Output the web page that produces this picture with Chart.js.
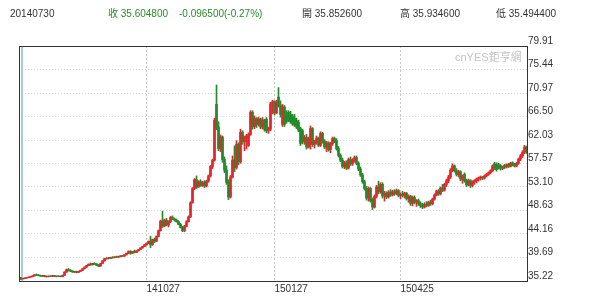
<!DOCTYPE html>
<html>
<head>
<meta charset="utf-8">
<script src="https://cdn.jsdelivr.net/npm/chart.js@4.4.1/dist/chart.umd.min.js"></script>
<style>
body { margin: 0; background: #fff; }
#wrap { position: relative; width: 600px; height: 304px; }
.hd { position: absolute; top: 8px; font: 10px "Liberation Sans", "Noto Sans CJK TC", sans-serif; color: #333; white-space: nowrap; line-height: 12px; }
.dn { color: #2a8a2a; }
#wm { position: absolute; left: 455px; top: 48px; font: 11px "Liberation Sans", "Noto Sans CJK TC", sans-serif; color: #c4c4c4; white-space: nowrap; }
</style>
</head>
<body>
<div id="wrap">
  <canvas id="kChart" width="600" height="304"></canvas>
  <span class="hd" style="left:10px">20140730</span>
  <span class="hd dn" style="left:108px">收 35.604800</span>
  <span class="hd dn" style="left:179px">-0.096500(-0.27%)</span>
  <span class="hd" style="left:302px">開 35.852600</span>
  <span class="hd" style="left:400px">高 35.934600</span>
  <span class="hd" style="left:496px">低 35.494400</span>
  <span id="wm">cnYES鉅亨網</span>
</div>
<script>
// daily candles, 20140730 onwards
var opens = [
  35.85,35.60,35.70,35.78,35.85,35.95,36.05,36.20,36.40,36.35,
  36.25,36.15,36.25,36.05,36.10,36.15,36.10,36.25,36.10,36.15,
  36.10,36.05,36.30,36.90,37.35,37.25,37.10,36.95,37.05,36.85,
  37.05,37.25,37.55,37.85,38.15,38.40,38.30,38.55,38.45,38.25,
  38.05,38.55,39.05,39.45,39.55,39.50,39.70,39.65,39.80,39.75,
  39.90,40.00,39.95,40.20,40.50,40.85,40.50,40.80,40.65,40.95,
  41.20,41.50,41.80,42.10,42.40,42.75,42.10,43.10,42.80,43.70,
  44.80,46.60,45.70,46.80,45.90,46.50,47.30,47.00,46.80,46.50,
  46.00,45.40,44.80,45.60,46.50,47.40,50.10,52.80,54.50,53.10,
  54.10,53.40,54.00,53.30,54.20,55.20,57.00,58.20,68.80,64.50,
  60.40,62.60,58.30,56.30,54.00,51.20,55.00,58.20,56.80,61.20,
  57.90,63.50,61.70,62.50,61.00,63.10,67.30,64.60,66.10,65.00,
  66.00,64.50,65.80,66.00,63.80,64.10,68.90,69.30,67.20,70.20,
  68.60,65.00,68.30,66.60,67.30,66.90,66.50,66.20,65.70,65.40,
  64.20,63.80,61.70,62.50,60.70,61.20,64.20,61.20,61.60,62.40,
  61.00,63.30,61.80,60.70,61.50,60.20,61.30,62.30,61.90,60.40,
  59.10,58.20,57.00,57.70,56.70,58.30,57.50,58.20,58.70,57.60,
  56.50,55.40,54.10,52.80,51.00,52.80,50.50,49.30,51.30,53.10,
  52.20,53.60,51.40,51.90,51.20,52.10,51.60,52.20,51.90,52.40,
  51.50,51.70,51.50,51.90,50.90,51.30,50.00,51.10,50.20,50.50,
  49.90,49.50,49.30,49.80,49.60,50.20,49.90,50.80,51.60,52.30,
  51.80,52.90,52.50,53.60,54.30,55.00,56.30,57.10,56.20,55.50,
  56.00,54.60,55.50,54.30,53.50,54.30,53.40,54.10,54.30,54.60,
  54.80,55.00,54.80,55.20,55.50,55.80,56.20,57.50,57.40,57.30,
  57.20,56.60,57.20,56.90,57.40,57.00,57.70,57.30,57.10,57.60,
  58.40,59.00,59.70,60.70
];
var highs = [
  35.93,35.75,35.85,35.92,36.00,36.10,36.25,36.45,36.55,36.45,
  36.35,36.30,36.30,36.20,36.20,36.25,36.30,36.30,36.20,36.25,
  36.20,36.35,37.00,37.50,37.60,37.40,37.20,37.10,37.10,37.10,
  37.30,37.60,37.90,38.20,38.50,38.65,38.60,38.70,38.55,38.40,
  38.60,39.10,39.55,39.65,39.70,39.75,39.85,39.85,39.95,39.95,
  40.05,40.10,40.25,40.55,40.95,41.00,40.85,41.10,41.00,41.25,
  41.55,41.85,42.15,42.45,42.85,43.75,43.20,43.40,43.80,44.90,
  46.80,48.50,47.00,47.10,46.70,47.50,47.60,47.20,47.00,46.70,
  46.20,45.60,45.80,46.70,47.60,50.30,53.00,54.70,55.20,54.30,
  54.50,54.20,54.30,54.40,55.40,57.20,58.40,66.20,72.50,65.50,
  63.00,62.80,58.80,57.10,54.50,55.30,59.00,60.90,61.90,61.50,
  64.10,63.80,62.80,63.10,63.40,67.60,67.60,66.60,66.30,66.40,
  66.20,66.30,66.00,66.30,64.50,69.20,69.60,69.50,69.60,72.00,
  69.50,68.80,68.60,67.60,67.60,67.50,66.90,66.90,66.20,65.80,
  64.50,64.10,62.90,63.10,62.60,64.70,64.40,62.00,62.80,62.60,
  63.60,63.50,62.10,61.80,61.70,61.60,62.60,62.60,62.30,60.80,
  59.40,58.60,58.00,58.10,58.60,58.80,58.50,59.00,59.00,57.90,
  56.90,55.70,54.40,53.20,53.10,53.00,51.00,51.60,53.40,54.20,
  53.90,53.90,52.30,52.20,52.40,52.60,52.50,52.60,52.70,52.60,
  52.00,52.30,52.10,52.10,51.60,51.50,51.40,51.40,50.70,50.80,
  50.30,50.00,50.10,50.30,50.40,50.60,51.00,51.80,52.50,52.60,
  53.10,53.60,53.80,54.60,55.30,56.60,57.50,57.30,56.60,56.30,
  56.20,55.40,55.80,54.60,54.60,54.50,54.30,54.50,54.80,55.00,
  55.20,55.10,55.40,55.70,56.00,56.40,57.30,57.80,57.70,57.60,
  57.40,57.10,57.40,57.50,57.60,57.80,57.90,57.60,57.80,58.60,
  59.30,60.00,61.00,60.90
];
var lows = [
  35.49,35.55,35.65,35.72,35.80,35.90,36.00,36.15,36.25,36.20,
  36.10,36.05,36.00,35.95,36.00,36.05,36.05,36.05,36.00,36.05,
  36.00,36.00,36.25,36.85,37.10,37.00,36.85,36.80,36.75,36.80,
  37.00,37.20,37.50,37.80,38.10,38.20,38.25,38.35,38.15,37.95,
  38.00,38.50,39.00,39.35,39.40,39.45,39.55,39.60,39.70,39.70,
  39.80,39.85,39.90,40.15,40.45,40.30,40.45,40.55,40.60,40.90,
  41.15,41.45,41.75,42.00,42.30,41.55,42.00,42.50,42.70,43.60,
  44.70,45.40,45.50,45.70,45.50,46.30,46.90,46.60,46.40,45.90,
  45.30,44.60,44.60,45.50,46.40,47.30,50.00,52.60,52.80,53.00,
  53.20,53.20,53.00,53.10,54.00,55.00,56.60,58.00,64.00,60.00,
  59.80,57.80,55.80,53.60,50.70,51.00,54.80,56.00,56.50,57.30,
  57.60,61.20,60.00,60.30,60.80,62.90,64.10,64.20,64.40,64.70,
  64.20,64.10,63.70,63.40,63.30,63.80,67.00,66.80,67.00,68.30,
  66.40,64.60,64.60,65.20,65.50,65.20,64.80,64.60,64.20,63.60,
  61.00,61.30,61.20,60.30,60.50,60.30,60.80,60.50,61.20,60.80,
  60.80,61.40,60.40,59.80,59.90,59.60,61.00,61.50,60.10,58.80,
  57.90,56.70,56.60,56.40,56.50,57.20,57.20,57.80,57.30,56.20,
  55.10,53.80,52.50,50.60,50.40,50.20,48.80,49.10,51.00,51.80,
  51.90,51.00,50.40,50.90,51.00,51.30,51.40,51.50,51.60,51.20,
  50.90,51.20,51.00,50.60,50.20,49.60,49.50,49.90,49.40,49.60,
  49.20,49.00,49.10,49.30,49.40,49.60,49.70,50.60,51.40,51.50,
  51.60,52.20,52.30,53.20,53.90,54.70,56.00,55.90,55.20,55.00,
  54.30,53.80,54.00,53.20,53.30,53.00,53.10,53.60,53.90,54.20,
  54.40,54.50,54.60,55.00,55.30,55.60,56.00,56.40,56.10,56.50,
  56.30,56.40,56.60,56.70,56.80,56.90,57.10,56.90,56.90,57.40,
  58.10,58.70,59.40,59.50
];
var closes = [
  35.60,35.70,35.78,35.85,35.95,36.05,36.20,36.40,36.35,36.25,
  36.15,36.25,36.05,36.10,36.15,36.10,36.25,36.10,36.15,36.10,
  36.05,36.30,36.90,37.35,37.25,37.10,36.95,37.05,36.85,37.05,
  37.25,37.55,37.85,38.15,38.40,38.30,38.55,38.45,38.25,38.05,
  38.55,39.05,39.45,39.55,39.50,39.70,39.65,39.80,39.75,39.90,
  40.00,39.95,40.20,40.50,40.85,40.50,40.80,40.65,40.95,41.20,
  41.50,41.80,42.10,42.40,42.75,42.10,43.10,42.80,43.70,44.80,
  46.60,45.70,46.80,45.90,46.50,47.30,47.00,46.80,46.50,46.00,
  45.40,44.80,45.60,46.50,47.40,50.10,52.80,54.50,53.10,54.10,
  53.40,54.00,53.30,54.20,55.20,57.00,58.20,65.80,64.50,60.40,
  62.60,58.30,56.30,54.00,51.20,55.00,58.20,56.80,61.20,57.90,
  63.50,61.70,62.50,62.80,63.10,67.30,64.60,66.10,65.00,66.00,
  64.50,65.80,64.10,63.80,64.10,68.90,69.30,67.20,69.30,68.60,
  66.90,68.30,65.00,65.60,65.80,65.50,65.10,64.90,64.50,63.90,
  61.40,61.70,62.50,60.70,62.30,64.20,61.20,61.60,62.40,61.00,
  63.30,61.80,60.70,61.50,60.20,61.30,62.30,61.80,60.40,59.10,
  58.20,57.00,57.70,56.70,58.30,57.50,58.20,58.70,57.60,56.50,
  55.40,54.10,52.80,51.00,52.80,50.50,49.30,51.30,53.10,52.20,
  53.60,51.40,51.90,51.20,52.10,51.60,52.20,51.90,52.40,51.50,
  51.70,51.50,51.90,50.90,51.30,50.00,51.10,50.20,50.50,49.90,
  49.50,49.30,49.80,49.60,50.20,49.90,50.80,51.60,52.30,51.80,
  52.90,52.50,53.60,54.30,55.00,56.30,57.10,56.20,55.50,56.00,
  54.60,55.10,54.30,53.50,54.30,53.40,54.10,54.30,54.60,54.80,
  55.00,54.80,55.20,55.50,55.80,56.20,57.10,56.70,56.40,56.80,
  56.60,56.90,56.90,57.30,57.00,57.60,57.30,57.10,57.60,58.40,
  59.00,59.70,60.70,59.80
];

// axis labels
var xTickIdx = [63, 127, 190];
var xTickText = ['141027', '150127', '150425'];
var yTicks = [35.22, 39.69, 44.16, 48.63, 53.10, 57.57, 62.03, 66.50, 70.97, 75.44, 79.91];

var upColor = '#e3262b';
var downColor = '#23892a';

var wickData = [], bodyData = [], candleColors = [];
for (var i = 0; i < closes.length; i++) {
    wickData.push({ x: i, y: [lows[i], highs[i]] });
    bodyData.push({ x: i, y: [Math.min(opens[i], closes[i]), Math.max(opens[i], closes[i])] });
    candleColors.push(closes[i] > opens[i] ? upColor : downColor);
}

// frame + hover line at first day
var framePlugin = {
    id: 'frame',
    beforeDatasetsDraw: function(chart) {
        var ctx = chart.ctx, a = chart.chartArea;
        var x0 = chart.scales.x.getPixelForValue(0);
        ctx.save();
        ctx.fillStyle = '#a9c9e6';
        ctx.fillRect(Math.round(x0), a.top, 2, a.bottom - a.top);
        ctx.restore();
    },
    afterDraw: function(chart) {
        var ctx = chart.ctx, a = chart.chartArea;
        ctx.save();
        ctx.strokeStyle = '#333';
        ctx.lineWidth = 1;
        ctx.strokeRect(a.left + 0.5, a.top + 0.5, a.right - a.left, a.bottom - a.top);
        ctx.restore();
    }
};

var kChart = new Chart(document.getElementById('kChart').getContext('2d'), {
    type: 'bar',
    data: {
        datasets: [{
            data: wickData,
            backgroundColor: candleColors,
            barThickness: 1,
            grouped: false
        }, {
            data: bodyData,
            backgroundColor: candleColors,
            barThickness: 2,
            grouped: false
        }]
    },
    options: {
        responsive: false,
        animation: false,
        devicePixelRatio: 1,
        layout: { padding: { top: 46, left: 19, right: 0, bottom: 0 } },
        plugins: { legend: { display: false }, tooltip: { enabled: false } },
        scales: {
            x: {
                type: 'linear',
                offset: false,
                min: -0.75,
                max: 253.25,
                grid: { offset: false, color: '#c8c8c8', drawTicks: false },
                border: { display: false, dash: [2, 2] },
                afterBuildTicks: function(scale) {
                    scale.ticks = xTickIdx.map(function(v) { return { value: v }; });
                },
                afterFit: function(scale) { scale.height = 23; },
                ticks: {
                    autoSkip: false,
                    maxRotation: 0,
                    align: 'start',
                    padding: 2,
                    color: '#333',
                    font: { family: 'Liberation Sans', size: 10 },
                    callback: function(v, idx) { return xTickText[idx]; }
                }
            },
            y: {
                position: 'right',
                min: 35.22,
                max: 79.91,
                beginAtZero: false,
                grid: { color: '#d8d8d8', drawTicks: false },
                border: { display: false, dash: [1, 2] },
                afterBuildTicks: function(scale) {
                    scale.ticks = yTicks.map(function(v) { return { value: v }; });
                },
                afterFit: function(scale) { scale.width = 73; },
                ticks: {
                    autoSkip: false,
                    padding: 1,
                    labelOffset: -5,
                    color: '#333',
                    font: { family: 'Liberation Sans', size: 10 },
                    callback: function(v) { return v.toFixed(2); }
                }
            }
        }
    },
    plugins: [framePlugin]
});
</script>
</body>
</html>
